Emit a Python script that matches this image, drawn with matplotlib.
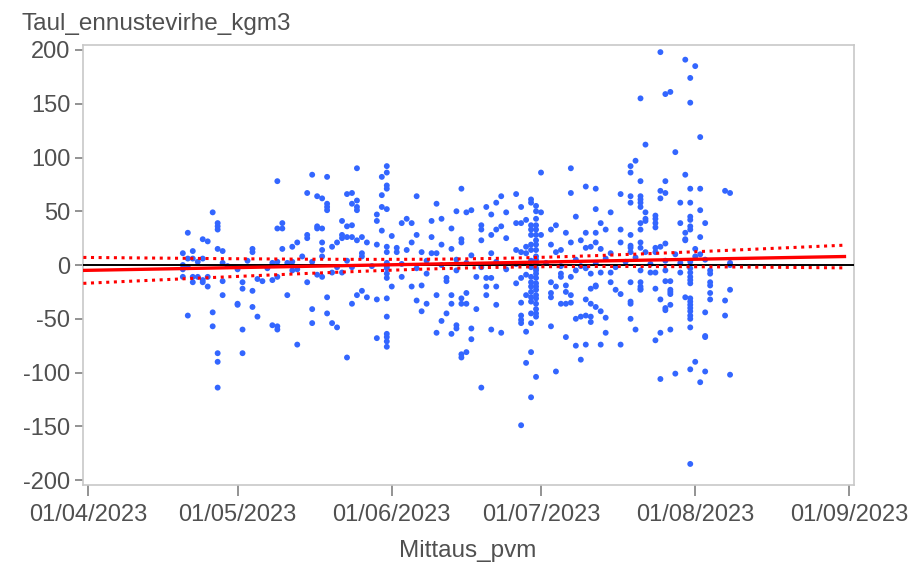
import numpy as np
import matplotlib
matplotlib.use("Agg")
import matplotlib.pyplot as plt
import matplotlib.dates as mdates

# days after 01/04/2023, forecast error (kg/m3)
days = [
    25, 26, 26, 26, 20, 23, 24, 19, 21, 26, 27, 33, 33, 38, 38, 20, 21, 23, 19, 19,
    27, 30, 37, 38, 19, 21, 22, 24, 23, 23, 21, 24, 27, 31, 31, 33, 34, 35, 37, 38,
    27, 30, 30, 33, 20, 25, 34, 25, 31, 37, 38, 38, 26, 26, 31, 26,
    45, 48, 54, 44, 46, 47, 48, 48, 48, 52, 53, 54, 53, 54, 54, 58, 58, 39, 39, 46,
    46, 47, 51, 52, 53, 44, 44, 51, 52, 51, 53, 54, 55, 56, 47, 49, 50, 42, 41, 39,
    47, 47, 55, 55, 58, 43, 41, 41, 47, 46, 49, 51, 53, 44, 40, 48, 54, 55, 56, 53,
    58, 45, 48, 45, 49, 50, 58, 42, 52,
    60, 60, 60, 60, 60, 60, 60, 60, 60, 60, 60, 60, 60, 60, 60, 60, 59, 59, 59, 59,
    61, 61, 62, 62, 63, 63, 64, 65, 66, 65, 66, 64, 65, 66, 67, 67, 67, 68, 68, 69,
    69, 69, 70, 70, 70, 70, 71, 71, 72, 72, 72, 71, 73, 73, 73, 73, 73, 74, 74, 74,
    74, 75, 75, 75, 75, 75, 75, 76, 77, 76, 76, 76, 77, 77, 77, 78, 78, 79, 75, 79,
    91, 97, 97, 80, 82, 83, 81, 84, 86, 87, 89, 89, 88, 86, 87, 79, 79, 82, 83, 81,
    84,
    90, 90, 90, 90, 90, 90, 90, 90, 90, 90, 90, 90, 90, 90, 90, 90, 90, 90, 90, 90,
    90, 90, 90,
    89, 89, 89, 89, 89, 89, 89, 89, 89, 89, 89, 89, 89,
    91, 91, 88, 88, 88, 88, 86, 87, 93, 93, 94, 96, 97, 94, 95, 81, 80, 81, 80, 82,
    80, 82, 87, 86, 87, 87, 87, 87, 88, 93, 93, 93, 94, 95, 95, 95, 96, 96, 96, 97,
    97, 93, 81, 83, 89, 88, 96, 98, 98, 90, 94, 89, 87, 99,
    112, 111, 110, 109, 109, 111, 100, 102, 107, 109, 111, 111, 109, 111, 111, 102, 105, 112, 112, 112,
    114, 114, 114, 114, 98, 103, 111, 104, 107, 111, 100, 102, 109, 99, 102, 107, 109, 111, 100, 101,
    103, 109, 109, 111, 112, 114, 114, 105, 99, 98, 101, 103, 105, 111, 113, 114, 105, 109, 111, 111,
    111, 111, 102, 102, 101, 106, 107, 114, 100, 101, 102, 103, 109, 109, 97, 99, 100, 101, 101, 104,
    109, 110, 104, 114, 100, 103, 107,
    115, 120, 122, 121, 116, 117, 121, 123, 118, 120, 116, 115, 116, 121, 123, 128, 129, 115, 119, 121,
    123, 119, 121, 121, 124, 121, 121, 120, 123, 120,
    120, 116, 115, 122, 118, 123, 129, 116, 119, 125, 125, 121, 121, 121, 121, 116, 117, 125, 125, 117,
    117, 117, 129, 125, 125, 120, 115, 121, 121, 121, 121, 121, 121, 121, 117, 116, 116, 128, 124, 128,
    121, 117, 115, 124, 124, 122, 121, 124, 123, 118, 115, 129, 121,
    20, 22, 28, 32, 36, 40, 42, 45, 50, 52, 57, 60, 60, 63, 66, 68, 71, 74, 76, 79,
    82, 84, 86, 89, 89, 90, 90, 92, 95, 98, 100, 102, 104, 106, 108, 110, 113, 116, 119, 121,
    121, 122, 124, 129,
]
errors = [
    49, 39, 36, 33, 30, 24, 22, 11, 13, 15, 13, 15, 12, 34, 78, 6, 6, 6, 0, -4,
    2, -4, 2, 3, -11, -11, -11, -11, -14, -16, -16, -20, -15, -16, -22, -24, -13, -15, -14, -11,
    -28, -36, -37, -39, -47, -44, -48, -57, -60, -56, -57, -60, -82, -90, -82, -114,
    84, 82, 90, 67, 64, 62, 57, 54, 51, 66, 67, 60, 57, 54, 51, 47, 41, 39, 34, 36,
    34, 34, 41, 36, 37, 28, 25, 28, 26, 25, 26, 23, 26, 21, 21, 17, 21, 21, 17, 15,
    14, 8, 11, 8, 19, 8, 3, -5, -11, -9, -7, -7, -2, -16, -28, -30, -28, -24, -30, -36,
    -32, -41, -45, -54, -54, -58, -68, -74, -86,
    92, 86, 74, 71, 52, 17, 12, -3, -8, -12, -31, -48, -64, -67, -71, -76, 82, 65, 54, 32,
    27, -20, 16, 12, -11, 39, 43, 39, 64, 21, 28, 14, -20, -33, 12, -19, -43, -36, -8, 41,
    26, 11, 11, 57, -28, -63, 43, 19, -12, -15, -45, -52, 34, 15, -28, -36, -64, 50, -5, -56,
    -59, 71, 24, 21, -31, -36, -83, 49, 51, -26, -36, -81, 9, -59, -69, -11, -41, 23, -86, -114,
    86, 90, 67, 54, 58, 64, 47, 49, 66, 54, 61, 58, 42, 39, 39, 37, 33, 33, 36, 28,
    25,
    55, 50, 43, 37, 33, 28, 23, 19, 14, 8, 2, -3, -8, -12, -17, -20, -23, -28, -31, -36,
    -41, -45, -48,
    37, 33, 28, 19, 14, -11, -16, -20, -25, -30, -34, -45, -54,
    49, 28, 17, 11, -9, -28, 14, 12, 33, 19, 37, 30, 21, 12, 14, 11, -12, -12, -20, -20,
    -28, -37, -12, -17, -35, -47, -51, -54, -62, -16, -26, -30, -20, -8, -11, -36, -36, -19, -25, -28,
    -11, -57, -60, -63, -81, -91, -67, -75, -50, -104, -99, -123, -149, -88,
    112, 155, 97, 92, 86, 78, 73, 71, 66, 64, 64, 61, 58, 58, 54, 52, 49, 49, 43, 41,
    46, 43, 39, 35, 45, 39, 39, 33, 33, 33, 30, 30, 28, 23, 21, 21, 18, 21, 16, 17,
    15, 16, 12, 16, 12, 16, 12, 11, -1, -5, -8, -7, -7, -5, -7, -7, -16, -16, -16, -20,
    -22, -23, -19, -20, -22, -23, -27, -22, -32, -36, -39, -43, -34, -36, -35, -48, -47, -48, -53, -49,
    -50, -60, -63, -70, -74, -74, -74,
    198, 191, 185, 174, 159, 161, 151, 119, 105, 84, 78, 69, 67, 71, 71, 69, 67, 62, 58, 58,
    51, 39, 45, 42, 39, 36, 33, 30, 26, 24,
    23, 20, 17, 15, 10, 10, 0, -5, -7, -5, -8, -7, -11, -14, -17, -15, -15, -16, -19, -23,
    -25, -27, -23, -26, -32, -30, -32, -31, -34, -37, -40, -43, -47, -50, -37, -40, -42, -33, -44, -47,
    -58, -60, -63, -66, -67, -90, -97, -99, -109, -101, -106, -102, -185,
    -2, 3, -1, 4, -3, 2, -4, 3, -2, 4, -1, 2, -1, 1, -3, 4, 0, 5, 2, -2,
    3, -4, 1, 4, -2, 5, -5, 2, -1, 5, -3, 2, 6, -2, 3, 7, 1, 4, 2, 3,
    -3, 8, 5, 2,
]

y_ticks = [-200, -150, -100, -50, 0, 50, 100, 150, 200]
month_starts = ["2023-04-01", "2023-05-01", "2023-06-01", "2023-07-01", "2023-08-01", "2023-09-01"]

start = np.datetime64("2023-04-01")
x = np.asarray(days, dtype=float)
y = np.asarray(errors, dtype=float)
dates = start + np.asarray(days).astype("timedelta64[D]")

# linear fit with 95% confidence band for the mean
slope, intercept = np.polyfit(x, y, 1)
n = len(x)
resid = y - (intercept + slope * x)
s = np.sqrt(np.sum(resid ** 2) / (n - 2))
sxx = np.sum((x - x.mean()) ** 2)
xf = np.linspace(-1, 152, 200)
yf = intercept + slope * xf
half = 1.96 * s * np.sqrt(1 / n + (xf - x.mean()) ** 2 / sxx)
xf_dates = start + (xf * 24 * 3600).astype("timedelta64[s]")

plt.rcParams["font.family"] = ["Liberation Sans", "DejaVu Sans"]
plt.rcParams["axes.unicode_minus"] = False
txt = "#505050"

fig = plt.figure(figsize=(9.17, 5.63), dpi=100)
ax = fig.add_axes([0.0902, 0.1385, 0.8411, 0.7815])

ax.scatter(dates, y, s=18, color="#3366ff", edgecolors="none", zorder=2)
ax.axhline(0, color="black", lw=1.4, zorder=3)
ax.plot(xf_dates, yf, color="#ff0000", lw=2.4, zorder=4)
ax.plot(xf_dates, yf + half, color="#ff0000", lw=2.2, ls=(0, (1, 1.5)), zorder=4)
ax.plot(xf_dates, yf - half, color="#ff0000", lw=2.2, ls=(0, (1, 1.5)), zorder=4)

ax.set_xlim(start - np.timedelta64(27, "h"), np.datetime64("2023-09-01") + np.timedelta64(22, "h"))
ax.set_ylim(-204.6, 204.6)
ax.set_yticks(y_ticks)
ax.set_xticks([np.datetime64(d) for d in month_starts])
ax.xaxis.set_major_formatter(mdates.DateFormatter("%d/%m/%Y"))

for sp in ax.spines.values():
    sp.set_color("#c8c8c8")
    sp.set_linewidth(1.2)
ax.tick_params(axis="both", colors="#808080", labelcolor=txt, labelsize=17, width=1.2)
ax.tick_params(axis="x", length=8, pad=6)
ax.tick_params(axis="y", length=6, pad=3)

fig.text(21 / 917, 1 - 30 / 563, "Taul_ennustevirhe_kgm3", fontsize=17.5, color=txt,
         ha="left", va="baseline")
fig.text(0.51, 1 - 557 / 563, "Mittaus_pvm", fontsize=17.5, color=txt,
         ha="center", va="baseline")

fig.savefig("out.png", dpi=100)
